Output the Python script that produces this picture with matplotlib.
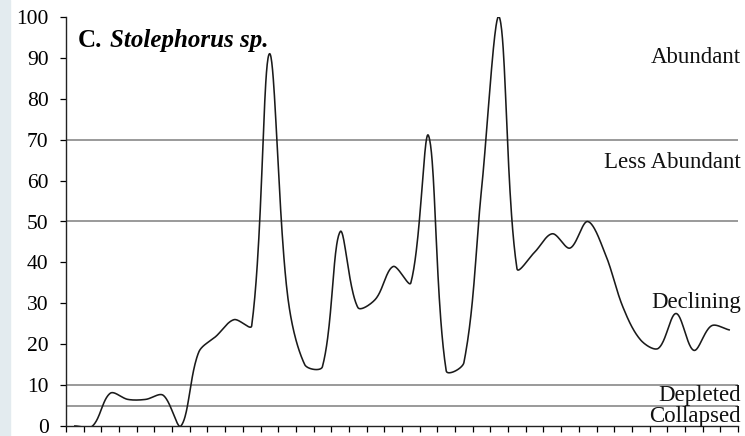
import numpy as np
import matplotlib
matplotlib.use("Agg")
import matplotlib.pyplot as plt
from matplotlib.patches import Rectangle

# Monthly abundance index, one value per sampling period
values = [0, 0, 8, 6.5, 6.5, 7.5, 0, 18, 22, 26, 24.5, 91, 33, 15, 14.5,
          47.5, 29, 31, 39, 35, 71, 13.5, 15.5, 58, 100, 38.5, 42.5, 47,
          43.5, 50, 42, 29, 21, 19, 27.5, 18.5, 24.5, 23.5]

# Status thresholds and their labels
thresholds = [5, 10, 50, 70]
status_labels = ["Abundant", "Less Abundant", "Declining", "Depleted", "Collapsed"]
status_y = [88.8, 63.0, 28.8, 6.1, 1.0]

title_prefix = "C."
title_name = "Stolephorus sp."
yticks = list(range(0, 101, 10))

W, H = 745, 436
AX_L, AX_B, AX_W, AX_H = 66, 10, 672, 409


def smooth(x, y, sx=1.0, sy=1.0, n=40):
    # Bezier smoothing through every point; control arms scaled by chord length
    # (measured in screen units so steep spikes don't overshoot)
    x = np.asarray(x, float)
    y = np.asarray(y, float)
    px = np.concatenate([[x[0]], x, [x[-1]]])
    py = np.concatenate([[y[0]], y, [y[-1]]])

    def dist(a, b):
        return np.hypot((px[b] - px[a]) * sx, (py[b] - py[a]) * sy)

    xs, ys = [], []
    t = np.linspace(0, 1, n)[:, None]
    for i in range(1, len(px) - 2):
        p0 = np.array([px[i - 1], py[i - 1]])
        p1 = np.array([px[i], py[i]])
        p2 = np.array([px[i + 1], py[i + 1]])
        p3 = np.array([px[i + 2], py[i + 2]])
        d01, d12, d23 = dist(i - 1, i), dist(i, i + 1), dist(i + 1, i + 2)
        f1 = d12 / (d01 + d12) if d01 + d12 > 0 else 0
        f2 = d12 / (d12 + d23) if d12 + d23 > 0 else 0
        c1 = p1 + (p2 - p0) * f1 / 3
        c2 = p2 - (p3 - p1) * f2 / 3
        pts = ((1 - t) ** 3) * p1 + 3 * ((1 - t) ** 2) * t * c1 \
            + 3 * (1 - t) * t ** 2 * c2 + t ** 3 * p2
        xs.append(pts[:, 0])
        ys.append(pts[:, 1])
    return np.concatenate(xs), np.concatenate(ys)


plt.rcParams["font.family"] = ["Liberation Serif", "DejaVu Serif"]

fig = plt.figure(figsize=(W / 100, H / 100), dpi=100)
fig.patches.append(Rectangle((0, 0), 10 / W, 1, transform=fig.transFigure,
                             color="#e3ebef", zorder=0))
ax = fig.add_axes([AX_L / W, AX_B / H, AX_W / W, AX_H / H])

x = np.arange(len(values)) + 0.5
sx, sy = smooth(x, values, sx=AX_W / len(values), sy=AX_H / 100)
ax.plot(sx, sy, color="#1a1a1a", lw=1.15, zorder=3)

for th in thresholds:
    ax.axhline(th, color="#7f7f7f", lw=1.1, zorder=2)

label_x = 741 / W
for lab, yy in zip(status_labels, status_y):
    ax.text(label_x, (AX_B + yy * AX_H / 100) / H, lab,
            transform=fig.transFigure, ha="right", va="baseline",
            fontsize=16.5, color="#111111", zorder=4)

ax.text(0.017, 92.7, title_prefix, fontsize=18, fontweight="bold",
        va="baseline", transform=ax.get_yaxis_transform())
ax.text(0.065, 92.7, title_name, fontsize=18, fontweight="bold",
        style="italic", va="baseline", transform=ax.get_yaxis_transform())

ax.set_xlim(0, len(values))
ax.set_ylim(0, 100)
ax.set_xticks(np.arange(len(values) + 1))
ax.set_xticklabels([])
ax.set_yticks(yticks)
ax.tick_params(axis="y", direction="out", length=4.5, width=0.9,
               labelsize=15.5, pad=8)
ax.tick_params(axis="x", direction="out", length=4, width=0.9)
for s in ["top", "right"]:
    ax.spines[s].set_visible(False)
for s in ["left", "bottom"]:
    ax.spines[s].set_linewidth(1.0)
    ax.spines[s].set_color("#222222")

fig.savefig("out.png", dpi=100)
